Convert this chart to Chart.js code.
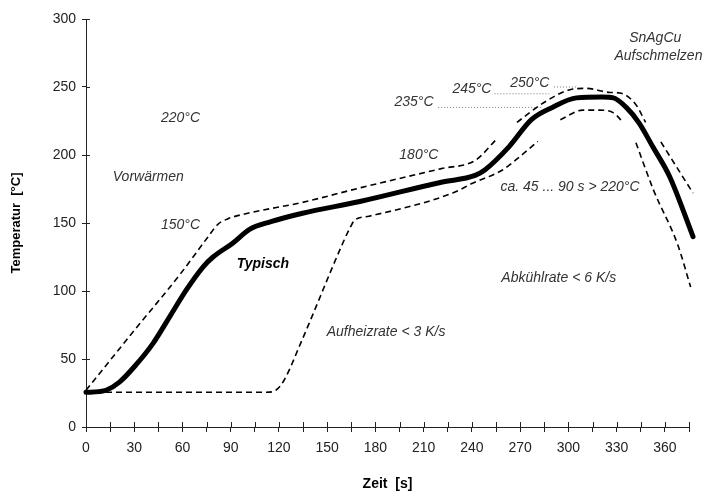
<!DOCTYPE html>
<html>
<head>
<meta charset="utf-8">
<script src="https://cdn.jsdelivr.net/npm/chart.js@4/dist/chart.umd.min.js"></script>
<style>
  html, body { margin: 0; padding: 0; background: #fff; }
  #wrap { width: 705px; height: 494px; }
</style>
</head>
<body>
<div id="wrap"><canvas id="myChart"></canvas></div>
<script>
// Zeitachse [s] und Temperaturen [°C]
const typischX = [0, 8, 12.5, 20.8, 31, 41.7, 52, 62.5, 73, 79, 91, 102, 115, 134, 171, 221, 242, 248, 263, 277, 290, 305, 321, 328, 336, 344, 352.5, 363, 377.5];
const typischY = [25.5, 26, 27, 33, 45.6, 61.5, 81, 101, 118, 125, 135, 145.5, 151, 157, 166, 180, 185, 189, 206, 226, 235, 242, 242.6, 242, 235, 223.5, 206, 184, 140];

// obere Grenze (gestrichelt), null = Lücke
const obenX = [0, 30, 59, 76, 82, 88, 100, 134, 171, 221, 242, 256, 262, 268, 284, 301, 311, 326, 332, 342, 348, 353, 357.5, 377.5];
const obenY = [27, 71, 113, 140, 149, 153, 157, 165, 176, 190, 196, 212.5, null, 224, 238, 248, 249, 246, 245.6, 237, 224, null, 209.6, 172];

// untere Grenze (gestrichelt)
const untenX = [0, 112, 118, 123, 134, 160, 164, 167, 176, 228, 240, 259, 270, 281, 288, 295, 309, 319, 328, 334, 337, 342, 353, 368, 376];
const untenY = [25.5, 25.5, 27, 34, 63, 136, 146, 152, 155, 172, 179, 189, 199, 210, null, 226, 233, 233, 231, 224, null, 209, 174, 134, 103];

// punktierte Hilfslinien
const refTemps = [235, 245, 250];
const refVon = [219, 254, 291];
const refBis = [284, 288, 305];

const xTicks = { min: 0, max: 375, step: 15 };
const yTicks = { min: 0, max: 300, step: 50 };

// Beschriftungen im Diagramm (Datenkoordinaten)
const texte = [
  { t: "220°C", x: 58.75, y: 227 },
  { t: "Vorwärmen", x: 38.75, y: 184 },
  { t: "150°C", x: 58.75, y: 148.5 },
  { t: "Typisch", x: 110, y: 120, bold: true },
  { t: "Aufheizrate < 3 K/s", x: 186.6, y: 70 },
  { t: "180°C", x: 207, y: 200 },
  { t: "235°C", x: 204, y: 239 },
  { t: "245°C", x: 240, y: 248.5 },
  { t: "250°C", x: 276, y: 253 },
  { t: "SnAgCu", x: 354, y: 286 },
  { t: "Aufschmelzen", x: 356, y: 273 },
  { t: "ca. 45 ... 90 s > 220°C", x: 301, y: 176.5 },
  { t: "Abkühlrate < 6 K/s", x: 294, y: 109.5 },
];

function punkte(xs, ys) {
  return xs.map((x, i) => ({ x: x, y: ys[i] }));
}

const refDatasets = refTemps.map((t, i) => ({
  data: [{ x: refVon[i], y: t }, { x: refBis[i], y: t }],
  borderColor: "#777",
  borderWidth: 1,
  borderDash: [1, 2],
  pointRadius: 0,
}));

// Textplugin
const textPlugin = {
  id: "texte",
  afterDatasetsDraw(chart) {
    const ctx = chart.ctx;
    const sx = chart.scales.x;
    const sy = chart.scales.y;
    ctx.save();
    ctx.textAlign = "center";
    ctx.textBaseline = "middle";
    texte.forEach((l) => {
      ctx.font = (l.bold ? "italic bold " : "italic ") + "14px 'Liberation Sans', Arial, sans-serif";
      ctx.fillStyle = l.bold ? "#000" : "#333";
      ctx.fillText(l.t, sx.getPixelForValue(l.x), sy.getPixelForValue(l.y));
    });
    ctx.restore();
  },
};

// Tickstriche auch nach innen zeichnen
const innenTicks = {
  id: "innenTicks",
  afterDraw(chart) {
    const ctx = chart.ctx;
    const sx = chart.scales.x;
    const sy = chart.scales.y;
    const area = chart.chartArea;
    ctx.save();
    ctx.strokeStyle = "#222";
    ctx.lineWidth = 1;
    ctx.beginPath();
    sx.ticks.forEach((t) => {
      const p = Math.round(sx.getPixelForValue(t.value)) + 0.5;
      ctx.moveTo(p, area.bottom);
      ctx.lineTo(p, area.bottom - 5);
    });
    sy.ticks.forEach((t) => {
      const p = Math.round(sy.getPixelForValue(t.value)) + 0.5;
      ctx.moveTo(area.left, p);
      ctx.lineTo(area.left + 4, p);
    });
    ctx.stroke();
    ctx.restore();
  },
};

Chart.defaults.font.family = "'Liberation Sans', Arial, sans-serif";
Chart.defaults.color = "#222";

let myChart = new Chart(document.getElementById("myChart"), {
  type: "line",
  data: {
    datasets: [
      {
        label: "Typisch",
        data: punkte(typischX, typischY),
        borderColor: "#000",
        borderWidth: 5,
        pointRadius: 0,
        cubicInterpolationMode: "monotone",
        borderCapStyle: "round",
        borderJoinStyle: "round",
        clip: false,
      },
      {
        label: "oben",
        data: punkte(obenX, obenY),
        borderColor: "#000",
        borderWidth: 1.6,
        borderDash: [6, 4],
        pointRadius: 0,
        cubicInterpolationMode: "monotone",
        clip: false,
      },
      {
        label: "unten",
        data: punkte(untenX, untenY),
        borderColor: "#000",
        borderWidth: 1.6,
        borderDash: [6, 4],
        pointRadius: 0,
        cubicInterpolationMode: "monotone",
        clip: false,
      },
      ...refDatasets,
    ],
  },
  options: {
    responsive: true,
    maintainAspectRatio: false,
    animation: false,
    spanGaps: false,
    layout: { padding: { top: 19, right: 16, left: 0, bottom: 0 } },
    plugins: { legend: { display: false }, tooltip: { enabled: false } },
    scales: {
      x: {
        type: "linear",
        min: xTicks.min,
        max: xTicks.max,
        afterFit: (s) => { s.height = 67; },
        border: { color: "#222", width: 1 },
        grid: { drawOnChartArea: false, tickLength: 5, color: "#222" },
        ticks: {
          stepSize: xTicks.step,
          autoSkip: false,
          maxRotation: 0,
          padding: 8,
          font: { size: 14 },
          callback: (v) => (v % 30 === 0 ? v : ""),
        },
        title: {
          display: true,
          text: "Zeit  [s]",
          font: { size: 14, weight: "bold" },
          color: "#000",
          padding: { top: 1, bottom: 1 },
        },
      },
      y: {
        min: yTicks.min,
        max: yTicks.max,
        afterFit: (s) => { s.width = 86; },
        border: { color: "#222", width: 1 },
        grid: { drawOnChartArea: false, tickLength: 4, color: "#222" },
        ticks: { stepSize: yTicks.step, padding: 6, font: { size: 14 } },
        title: {
          display: true,
          text: "Temperatur  [°C]",
          font: { size: 13, weight: "bold" },
          color: "#000",
          padding: { top: 9, bottom: 0 },
        },
      },
    },
  },
  plugins: [textPlugin, innenTicks],
});
</script>
</body>
</html>
